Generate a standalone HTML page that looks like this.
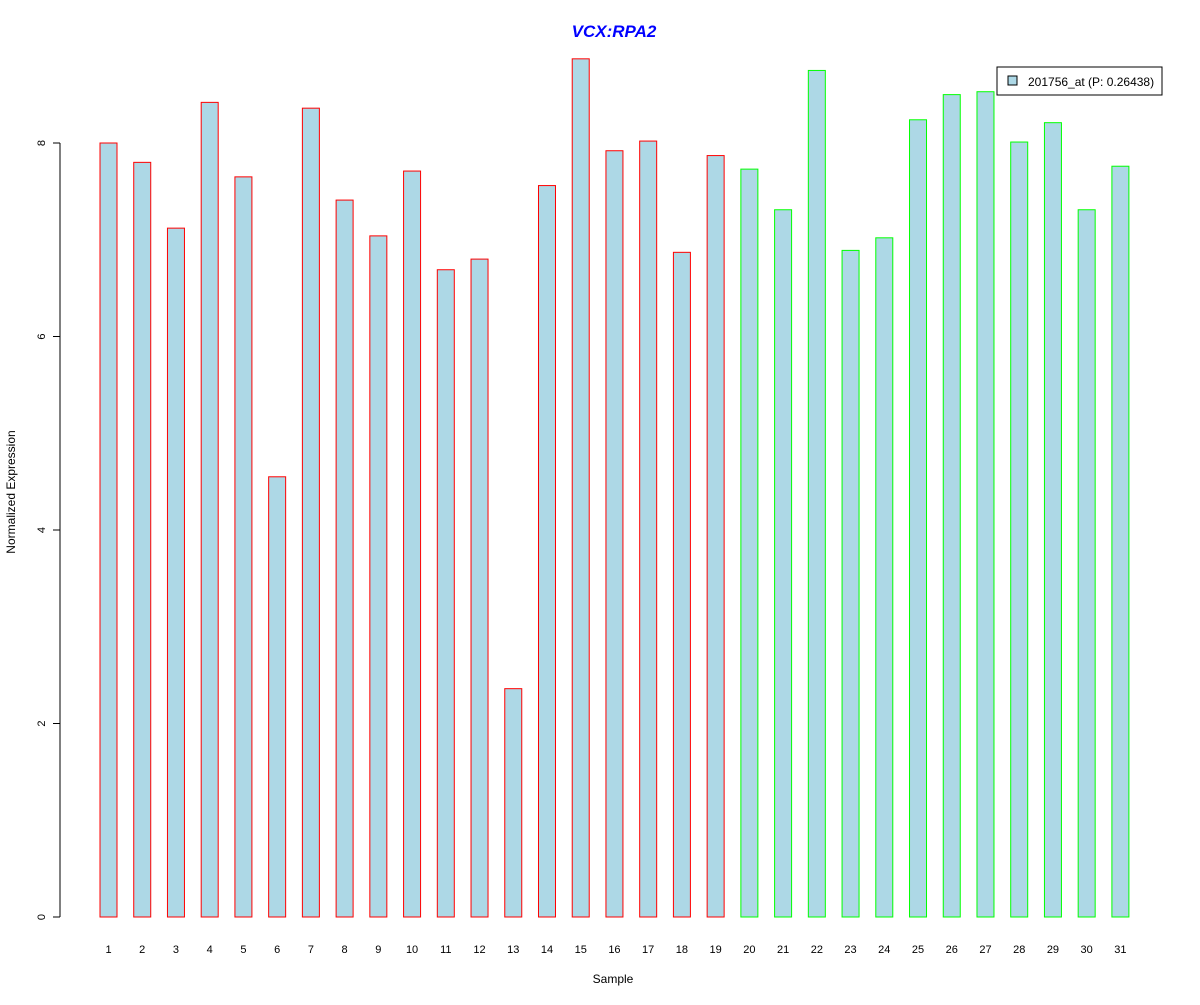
<!DOCTYPE html>
<html><head><meta charset="utf-8"><style>
body{margin:0;background:#fff}
svg text{font-family:"Liberation Sans",Arial,sans-serif}
</style></head><body>
<svg id="chart" width="1200" height="1000" xmlns="http://www.w3.org/2000/svg">
<rect width="1200" height="1000" fill="#fff"/>
<text x="614" y="37" text-anchor="middle" font-size="17" font-weight="bold" font-style="italic" fill="#0000ff">VCX:RPA2</text>
<text x="613" y="983" text-anchor="middle" font-size="12">Sample</text>
<text transform="translate(15,492) rotate(-90)" text-anchor="middle" font-size="12">Normalized Expression</text>
<g id="bars"></g>
<g id="yaxis"></g>
<g id="xlabels"></g>
<g>
<rect x="997" y="67" width="165" height="28" fill="#fff" stroke="#000"/>
<rect x="1008" y="76" width="9" height="9" fill="#add8e6" stroke="#000"/>
<text x="1028" y="86" font-size="12">201756_at (P: 0.26438)</text>
</g>
</svg>
<script>
const categories=["1","2","3","4","5","6","7","8","9","10","11","12","13","14","15","16","17","18","19","20","21","22","23","24","25","26","27","28","29","30","31"];
const values=[8.0,7.80,7.12,8.42,7.65,4.55,8.36,7.41,7.04,7.71,6.69,6.80,2.36,7.56,8.87,7.92,8.02,6.87,7.87,7.73,7.31,8.75,6.89,7.02,8.24,8.50,8.53,8.01,8.21,7.31,7.76];
const groups=[1,1,1,1,1,1,1,1,1,1,1,1,1,1,1,1,1,1,1,2,2,2,2,2,2,2,2,2,2,2,2];
const yTicks=[0,2,4,6,8];
const NS="http://www.w3.org/2000/svg";
const y=v=>917-v*96.75;
const x=i=>108.5+i*33.73;
const bars=document.getElementById('bars');
values.forEach((v,i)=>{
 const r=document.createElementNS(NS,'rect');
 
 
 r.setAttribute('x',x(i)-8.5);r.setAttribute('width',17);
 r.setAttribute('y',y(v));r.setAttribute('height',y(0)-y(v));
 r.setAttribute('fill','#add8e6');r.setAttribute('stroke',groups[i]===1?'#ff0000':'#00ff00');
 bars.appendChild(r);
 const t=document.createElementNS(NS,'text');
 
 
 t.setAttribute('x',x(i));t.setAttribute('y',953);t.setAttribute('text-anchor','middle');t.setAttribute('font-size','11');
 t.textContent=categories[i];
 document.getElementById('xlabels').appendChild(t);
});
const ya=document.getElementById('yaxis');
const ax=document.createElementNS(NS,'line');


ax.setAttribute('x1',60);ax.setAttribute('x2',60);ax.setAttribute('y1',y(yTicks[yTicks.length-1]));ax.setAttribute('y2',y(0));ax.setAttribute('stroke','#000');
ya.appendChild(ax);
yTicks.forEach(v=>{
 const l=document.createElementNS(NS,'line');
 
 
 l.setAttribute('x1',53);l.setAttribute('x2',60);l.setAttribute('y1',y(v));l.setAttribute('y2',y(v));l.setAttribute('stroke','#000');
 ya.appendChild(l);
 const t=document.createElementNS(NS,'text');
 
 
 t.setAttribute('transform','translate(45,'+y(v)+') rotate(-90)');t.setAttribute('text-anchor','middle');t.setAttribute('font-size','11');
 t.textContent=v;
 ya.appendChild(t);
});
</script>
</body></html>
